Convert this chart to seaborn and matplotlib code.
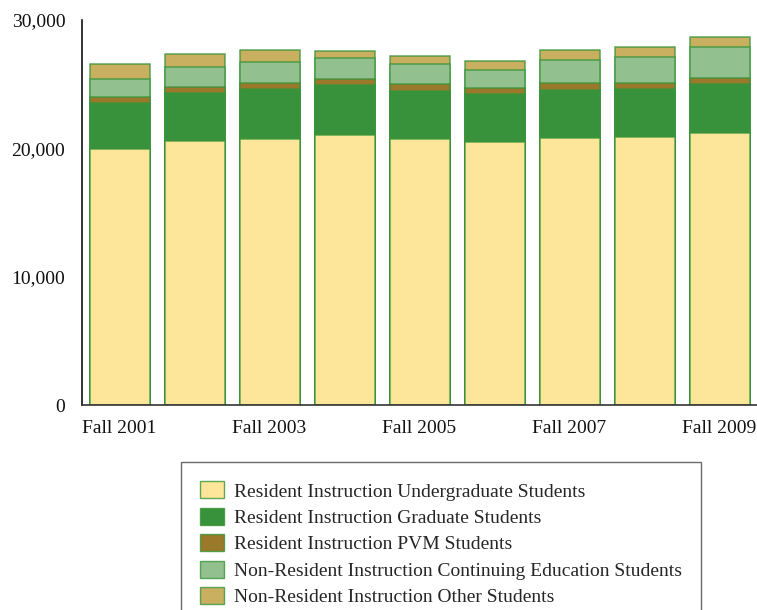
import matplotlib
matplotlib.use("Agg")
import matplotlib.pyplot as plt
import seaborn as sns
import numpy as np
import pandas as pd
from matplotlib.patches import Patch

terms = ["Fall 2001", "Fall 2002", "Fall 2003", "Fall 2004", "Fall 2005",
         "Fall 2006", "Fall 2007", "Fall 2008", "Fall 2009"]
undergrad = [19925, 20600, 20700, 21065, 20750, 20520, 20805, 20857, 21218]
graduate = [3584, 3715, 3920, 3870, 3740, 3740, 3766, 3740, 3769]
pvm = [468, 467, 470, 490, 490, 467, 494, 494, 468]
cont_ed = [1449, 1535, 1635, 1587, 1560, 1403, 1792, 2000, 2415]
other = [1145, 1060, 910, 600, 675, 650, 779, 779, 779]

series_names = ["Resident Instruction Undergraduate Students",
                "Resident Instruction Graduate Students",
                "Resident Instruction PVM Students",
                "Non-Resident Instruction Continuing Education Students",
                "Non-Resident Instruction Other Students"]
series_values = [undergrad, graduate, pvm, cont_ed, other]
colors = ["#fde699", "#38923b", "#9a7a2a", "#92c18f", "#c8b060"]
edge = (0.22, 0.58, 0.22, 0.8)

sns.set_theme(style="white")
plt.rcParams["font.family"] = ["Liberation Serif", "DejaVu Serif"]

fig = plt.figure(figsize=(7.57, 6.10), dpi=100)
ax = fig.add_axes([82 / 757, 1 - 405 / 610, 1 - 82 / 757, (405 - 20) / 610])

cum = np.cumsum(np.array(series_values), axis=0)
# draw tallest cumulative first, so lower layers overlay
for i in range(len(series_names) - 1, -1, -1):
    df = pd.DataFrame({"term": terms, "value": cum[i]})
    sns.barplot(data=df, x="term", y="value", color=colors[i], width=0.8,
                edgecolor=edge, linewidth=1.1, saturation=1, ax=ax, order=terms)

ax.set_ylim(0, 30000)
ax.set_xlim(-0.5, len(terms) - 0.5)
ax.set_yticks([0, 10000, 20000, 30000])
ax.set_yticklabels(["0", "10,000", "20,000", "30,000"])
ax.set_xticks(range(len(terms)))
ax.set_xticklabels([t if k % 2 == 0 else "" for k, t in enumerate(terms)])
ax.set_xlabel("")
ax.set_ylabel("")
ax.tick_params(axis="both", length=0, labelsize=14, colors="#111111")
ax.tick_params(axis="y", pad=12)
ax.tick_params(axis="x", pad=11)
for s in ["top", "right"]:
    ax.spines[s].set_visible(False)
ax.spines["left"].set_color("#111111")
ax.spines["bottom"].set_color("#333333")
ax.spines["left"].set_linewidth(1.2)
ax.spines["bottom"].set_linewidth(1.2)

handles = [Patch(facecolor=c, edgecolor=edge, linewidth=1.0) for c in colors]
leg = fig.legend(handles, series_names, loc="upper left",
                 bbox_to_anchor=(181 / 757, 1 - 462 / 610), fontsize=14,
                 frameon=True, fancybox=False, borderpad=1.0,
                 handlelength=1.2, handleheight=0.95, handletextpad=0.5,
                 labelspacing=0.38, borderaxespad=0)
leg.get_frame().set_edgecolor("#444444")
leg.get_frame().set_linewidth(1.0)

fig.savefig("out.png", dpi=100)
